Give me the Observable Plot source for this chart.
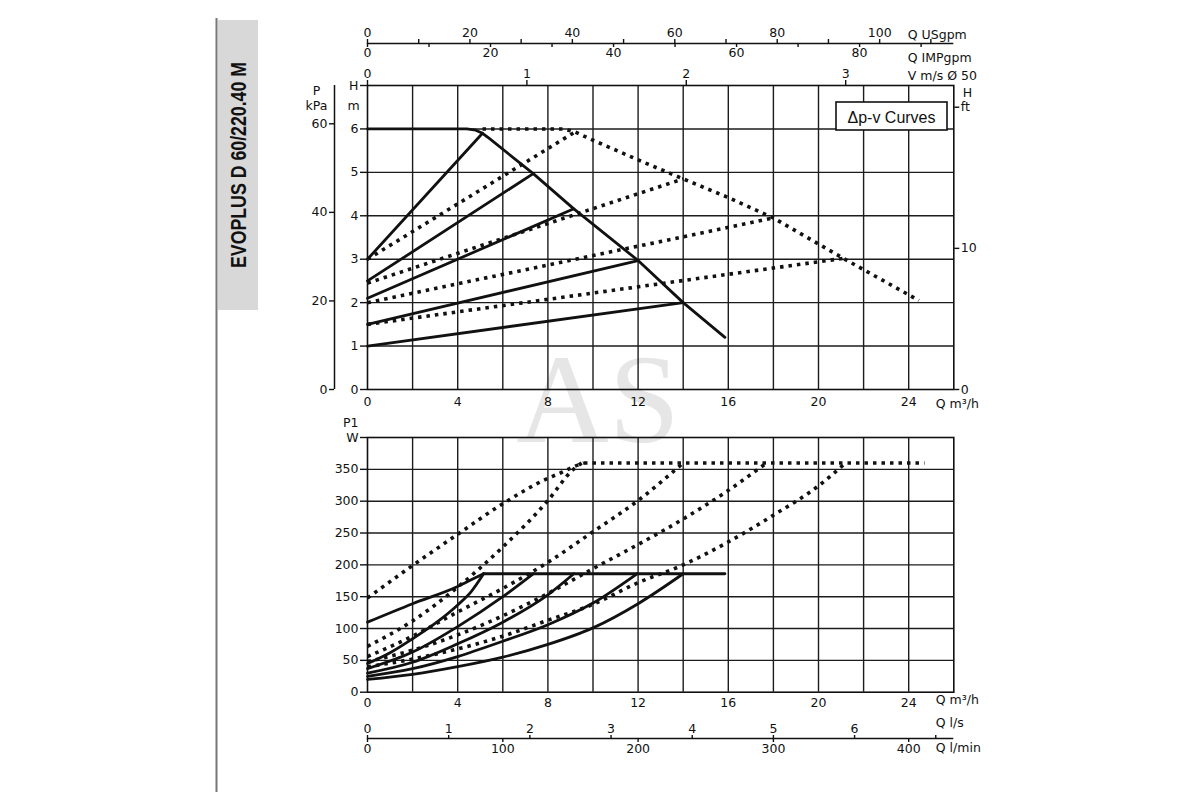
<!DOCTYPE html>
<html>
<head>
<meta charset="utf-8">
<script src="https://cdn.jsdelivr.net/npm/d3@7"></script>
<script src="https://cdn.jsdelivr.net/npm/@observablehq/plot@0.6"></script>
<style>
  html, body { margin: 0; padding: 0; background: #fff; }
  #page { position: relative; width: 1200px; height: 800px; overflow: hidden; color: #111; font-family: "DejaVu Sans", "Liberation Sans", sans-serif; }
  .abs { position: absolute; left: 0; }
  #wm { position: absolute; left: 0; top: 0; }
</style>
</head>
<body>
<div id="page">
  <svg id="wm" width="1200" height="800">
    <text x="598" y="442" text-anchor="middle" font-family="Liberation Serif, DejaVu Serif, serif" font-size="128" fill="#e6e6e6">AS</text>
  </svg>
  <svg class="abs" style="top:0" width="1200" height="800">
    <line x1="216.5" y1="18" x2="216.5" y2="792" stroke="#777" stroke-width="2"></line>
    <rect x="218" y="20" width="40" height="290" fill="#d8d8d8"></rect>
    <text transform="translate(238,165) rotate(-90)" text-anchor="middle" dominant-baseline="central"
          font-family="Liberation Sans, DejaVu Sans, sans-serif" font-weight="bold" font-size="22"
          textLength="206" lengthAdjust="spacingAndGlyphs" fill="#111">EVOPLUS D 60/220.40 M</text>
  </svg>
  <div id="upper" class="abs" style="top:0"></div>
  <div id="lower" class="abs" style="top:420px"></div>
  <svg class="abs" style="top:0;pointer-events:none" width="1200" height="800">
    <rect x="836" y="102" width="111" height="28" fill="#fff" stroke="#111" stroke-width="1.6"></rect>
    <text x="891.5" y="117" text-anchor="middle" dominant-baseline="central"
          font-family="Liberation Sans, DejaVu Sans, sans-serif" font-size="17"
          textLength="88" lengthAdjust="spacingAndGlyphs" fill="#111">Δp-v Curves</text>
  </svg>
</div>
<script>
// ---------- scales / ticks ----------
const flowDomain = [0, 26];
const headDomain = [0, 7];
const powerDomain = [0, 400];

const flowTicks = [0, 4, 8, 12, 16, 20, 24];
const flowGrid = [2, 4, 6, 8, 10, 12, 14, 16, 18, 20, 22, 24];
const headTicks = [0, 1, 2, 3, 4, 5, 6, 7];
const headGrid = [1, 2, 3, 4, 5, 6];
const kpaTicks = [0, 20, 40, 60];
const ftTicks = [0, 10, 20];
const usgpmTicks = [0, 10, 20, 30, 40, 50, 60, 70, 80, 90, 100, 110];
const impgpmTicks = [0, 10, 20, 30, 40, 50, 60, 70, 80, 90];
const velocityTicks = [0, 1, 2, 3];
const powerTicks = [0, 50, 100, 150, 200, 250, 300, 350, 400];
const powerGrid = [50, 100, 150, 200, 250, 300, 350];
const lpsTicks = [0, 1, 2, 3, 4, 5, 6, 7];
const lpmTicks = [0, 100, 200, 300, 400];

// unit conversions (to m3/h or m)
const USGPM = 0.22712, IMPGPM = 0.27277, VEL50 = Math.PI * 0.025 * 0.025 * 3600;
const KPA = 1 / 9.80665, FT = 0.325, LPS = 3.6, LPM = 0.06;

// ---------- upper chart: head H (m) vs Q (m3/h) ----------
// single pump: max curve (solid)
const singleMaxQ = [0, 4.4, 4.8, 5.1, 5.4, 7.35, 9.15, 12, 14, 15.85];
const singleMaxH = [6, 6, 5.97, 5.9, 5.78, 4.97, 4.16, 2.97, 2.0, 1.2];
// single pump: Δp-v lines (solid)
const singleDpvStartH = [3.0, 2.5, 2.1, 1.5, 1.0];
const singleDpvEndQ = [5.1, 7.35, 9.15, 12, 14];
const singleDpvEndH = [5.9, 4.97, 4.16, 2.97, 2.0];
// twin operation: max curve (dotted)
const twinMaxQ = [5.1, 8.7, 9.2, 10, 12.3, 14, 16, 18, 20, 21.1, 24.45];
const twinMaxH = [6, 6, 5.93, 5.74, 5.22, 4.85, 4.42, 3.95, 3.35, 3.02, 2.05];
// twin operation: Δp-v lines (dotted)
const twinDpvStartH = [3.0, 2.45, 2.0, 1.5];
const twinDpvEndQ = [9.2, 14, 18, 21.1];
const twinDpvEndH = [5.93, 4.85, 3.95, 3.02];

// ---------- lower chart: power P1 (W) vs Q (m3/h) ----------
const singlePowerQ = [
  [0, 2, 4, 4.85, 5.15],
  [0, 1, 2, 3, 4, 4.6, 5.15],
  [0, 2, 4, 6, 7.35],
  [0, 2, 4, 6, 8, 9.15],
  [0, 2, 4, 6, 8, 10, 11.95],
  [0, 2, 4, 6, 8, 10, 12, 14],
  [5.15, 15.85]
];
const singlePowerW = [
  [110, 139, 166, 181, 186],
  [45, 62, 84, 108, 137, 158, 186],
  [37, 63, 103, 150, 186],
  [30, 47, 76, 110, 153, 186],
  [25, 37, 56, 80, 106, 140, 186],
  [20, 28, 40, 55, 75, 101, 139, 186],
  [186, 186]
];
const twinPowerQ = [
  [0, 2, 4, 6, 8, 8.6, 9.2, 9.6],
  [0, 2, 4, 6, 8, 9.1, 9.5],
  [0, 2, 4, 6, 8, 10, 12, 14],
  [0, 2, 4, 6, 8, 10, 12, 14, 16, 17.7],
  [0, 2, 4, 6, 8, 10, 12, 14, 16, 18, 20, 21.2],
  [9.6, 24.7]
];
const twinPowerW = [
  [148, 199, 248, 296, 336, 345, 355, 360],
  [72, 112, 165, 228, 301, 349, 360],
  [56, 88, 126, 163, 204, 252, 301, 360],
  [48, 66, 90, 120, 155, 194, 232, 272, 317, 360],
  [40, 52, 68, 88, 113, 138, 172, 200, 236, 278, 324, 360],
  [360, 360]
];

// ---------- tables ----------
const toRows = (qs, vs, id) => qs.map((q, i) => ({q, v: vs[i], id}));
const headSingle = [
  ...toRows(singleMaxQ, singleMaxH, "max"),
  ...singleDpvEndQ.flatMap((q, i) => toRows([0, q], [singleDpvStartH[i], singleDpvEndH[i]], "dpv" + i))
];
const headTwin = [
  ...toRows(twinMaxQ, twinMaxH, "max"),
  ...twinDpvEndQ.flatMap((q, i) => toRows([0, q], [twinDpvStartH[i], twinDpvEndH[i]], "dpv" + i))
];
const powerSingle = singlePowerQ.flatMap((qs, i) => toRows(qs, singlePowerW[i], "s" + i));
const powerTwin = twinPowerQ.flatMap((qs, i) => toRows(qs, twinPowerW[i], "t" + i));

// ---------- styling ----------
const INK = "#111";
const FONT = '"DejaVu Sans", "Liberation Sans", sans-serif';
const FS = 12.5;
const gridStyle = {stroke: "#1c1c1c", strokeWidth: 1.4};
const solid = {stroke: INK, strokeWidth: 2.8, strokeLinejoin: "round"};
const dotted = {stroke: INK, strokeWidth: 3.6, strokeDasharray: "3.5,5", strokeLinecap: "butt"};
const axisStyle = {label: null, fontSize: FS, stroke: INK, strokeWidth: 1.4};
const common = {
  width: 1200, marginLeft: 367, marginRight: 246.7,
  x: {domain: flowDomain},
  style: {background: "transparent", fontFamily: FONT, fontSize: FS + "px", color: INK, overflow: "visible"}
};
const round = (v, f) => Math.round(v / f);

// ---------- upper chart ----------
const upper = Plot.plot({
  ...common,
  height: 420, marginTop: 85, marginBottom: 31,
  y: {domain: headDomain},
  marks: [
    Plot.ruleX(flowGrid, gridStyle),
    Plot.ruleY(headGrid, gridStyle),
    Plot.frame({stroke: INK, strokeWidth: 1.6}),
    Plot.line(headSingle, {x: "q", y: "v", z: "id", ...solid}),
    Plot.line(headTwin, {x: "q", y: "v", z: "id", ...dotted}),
    // bottom flow axis
    Plot.axisX(flowTicks, {...axisStyle, anchor: "bottom", tickSize: 0, tickPadding: 8}),
    Plot.text(["Q m³/h"], {frameAnchor: "bottom-right", dx: -18, dy: 18, textAnchor: "start", fontSize: FS}),
    // head axis (m)
    Plot.axisY(headTicks, {...axisStyle, anchor: "left", tickSize: 7, tickPadding: 2, tickFormat: d => d === 7 ? "H" : String(d)}),
    Plot.text(["m"], {frameAnchor: "top-left", dx: -14, dy: 16, textAnchor: "middle", fontSize: FS}),
    // pressure axis (kPa)
    Plot.ruleX([flowDomain[0]], {dx: -33, stroke: INK, strokeWidth: 1.5}),
    Plot.axisY(kpaTicks.map(k => k * KPA), {...axisStyle, anchor: "left", dx: -33, tickSize: 5, tickPadding: 2, tickFormat: d => String(round(d, KPA))}),
    Plot.text(["P"], {frameAnchor: "top-left", dx: -51, dy: 1, textAnchor: "middle", fontSize: FS}),
    Plot.text(["kPa"], {frameAnchor: "top-left", dx: -51, dy: 16, textAnchor: "middle", fontSize: FS}),
    // right head axis (ft)
    Plot.axisY(ftTicks.map(f => f * FT), {...axisStyle, anchor: "right", tickSize: 5, tickPadding: 2, tickFormat: d => round(d, FT) === 20 ? "ft" : String(round(d, FT))}),
    Plot.text(["H"], {frameAnchor: "top-right", dx: 9, dy: 3, textAnchor: "start", fontSize: FS}),
    // top axes: USgpm / IMPgpm / velocity
    Plot.ruleY([headDomain[1]], {dy: -42, stroke: INK, strokeWidth: 1.5}),
    Plot.axisX(usgpmTicks.map(g => g * USGPM), {...axisStyle, anchor: "top", dy: -42, tickSize: 5, tickPadding: 2,
      tickFormat: d => { const g = round(d, USGPM); return g % 20 === 0 && g <= 100 ? String(g) : ""; }}),
    Plot.axisX(impgpmTicks.map(g => g * IMPGPM), {...axisStyle, anchor: "bottom", dy: -346, tickSize: 4, tickPadding: 1,
      tickFormat: d => { const g = round(d, IMPGPM); return g % 20 === 0 ? String(g) : ""; }}),
    Plot.axisX(velocityTicks.map(v => v * VEL50), {...axisStyle, anchor: "top", tickSize: 6, tickPadding: 2,
      tickFormat: d => String(round(d, VEL50))}),
    Plot.text(["Q USgpm"], {frameAnchor: "top-right", dx: -46, dy: -55, textAnchor: "start", fontSize: FS}),
    Plot.text(["Q IMPgpm"], {frameAnchor: "top-right", dx: -46, dy: -32, textAnchor: "start", fontSize: FS}),
    Plot.text(["V m/s Ø 50"], {frameAnchor: "top-right", dx: -46, dy: -14, textAnchor: "start", fontSize: FS})
  ]
});
document.getElementById("upper").append(upper);

// ---------- lower chart ----------
const lower = Plot.plot({
  ...common,
  height: 380, marginTop: 17, marginBottom: 108.3,
  y: {domain: powerDomain},
  marks: [
    Plot.ruleX(flowGrid, gridStyle),
    Plot.ruleY(powerGrid, gridStyle),
    Plot.frame({stroke: INK, strokeWidth: 1.6}),
    Plot.line(powerSingle, {x: "q", y: "v", z: "id", curve: "monotone-x", ...solid}),
    Plot.line(powerTwin, {x: "q", y: "v", z: "id", curve: "monotone-x", ...dotted}),
    Plot.axisY(powerTicks, {...axisStyle, anchor: "left", tickSize: 7, tickPadding: 2, tickFormat: d => d === 400 ? "W" : String(d)}),
    Plot.text(["P1"], {frameAnchor: "top-left", dx: -9, dy: -19, textAnchor: "end", fontSize: FS}),
    Plot.axisX(flowTicks, {...axisStyle, anchor: "bottom", tickSize: 0, tickPadding: 6}),
    Plot.text(["Q m³/h"], {frameAnchor: "bottom-right", dx: -18, dy: 12, textAnchor: "start", fontSize: FS}),
    // l/s and l/min axes
    Plot.ruleY([powerDomain[0]], {dy: 46.3, stroke: INK, strokeWidth: 1.5}),
    Plot.axisX(lpsTicks.map(v => v * LPS), {...axisStyle, anchor: "top", dy: 301, tickSize: 4, tickPadding: 2,
      tickFormat: d => { const v = round(d, LPS); return v <= 6 ? String(v) : ""; }}),
    Plot.axisX(lpmTicks.map(v => v * LPM), {...axisStyle, anchor: "bottom", dy: 46.3, tickSize: 4, tickPadding: 2,
      tickFormat: d => String(round(d, LPM))}),
    Plot.text(["Q l/s"], {frameAnchor: "bottom-right", dx: -18, dy: 35, textAnchor: "start", fontSize: FS}),
    Plot.text(["Q l/min"], {frameAnchor: "bottom-right", dx: -18, dy: 60, textAnchor: "start", fontSize: FS})
  ]
});
document.getElementById("lower").append(lower);
</script>
</body>
</html>
